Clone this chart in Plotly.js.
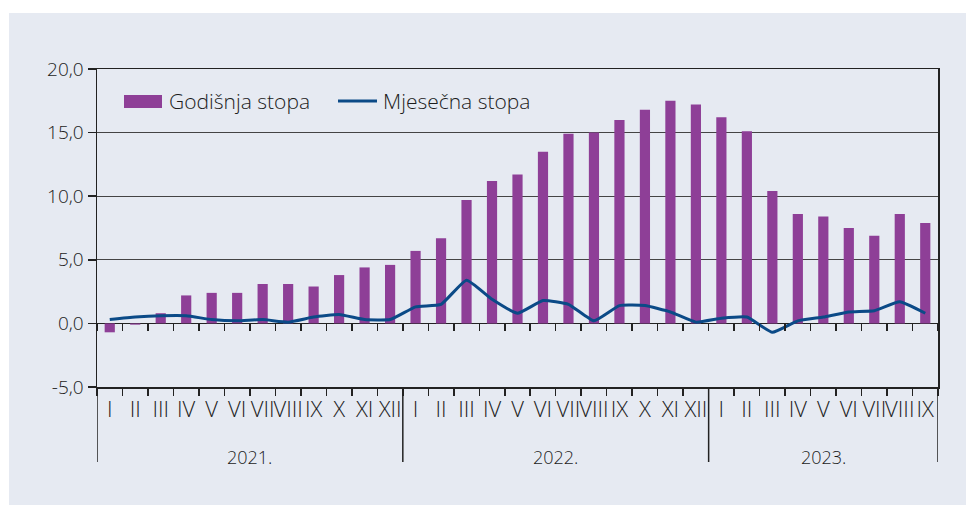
<!DOCTYPE html>
<html>
<head>
<meta charset="utf-8">
<script src="https://cdn.plot.ly/plotly-3.0.1.min.js"></script>
<style>
  html, body { margin: 0; padding: 0; background: #ffffff; }
  #chart { position: absolute; left: 9px; top: 13px; width: 957px; height: 492px; }
</style>
</head>
<body>
<div id="chart"></div>
<script>
// ---- data ----
const years = ['2021.', '2022.', '2023.'];
const monthsPerYear = [12, 12, 9];
const romanMonths = ['I','II','III','IV','V','VI','VII','VIII','IX','X','XI','XII'];

const godisnjaStopa = [
  -0.7, -0.1, 0.8, 2.2, 2.4, 2.4, 3.1, 3.1, 2.9, 3.8, 4.4, 4.6,
  5.7, 6.7, 9.7, 11.2, 11.7, 13.5, 14.9, 15.0, 16.0, 16.8, 17.5, 17.2,
  16.2, 15.1, 10.4, 8.6, 8.4, 7.5, 6.9, 8.6, 7.9
];
const mjesecnaStopa = [
  0.3, 0.5, 0.6, 0.6, 0.3, 0.2, 0.3, 0.1, 0.5, 0.7, 0.3, 0.3,
  1.3, 1.5, 3.4, 1.9, 0.8, 1.8, 1.5, 0.2, 1.4, 1.4, 0.9, 0.1,
  0.4, 0.5, -0.7, 0.2, 0.5, 0.9, 1.0, 1.7, 0.8
];
const yTickVals = [-5, 0, 5, 10, 15, 20];
const yTickText = ['-5,0', '0,0', '5,0', '10,0', '15,0', '20,0'];
const seriesNames = ['Godišnja stopa', 'Mjesečna stopa'];

// ---- categories ----
const cats = [], catLabels = [];
years.forEach((y, i) => {
  for (let m = 0; m < monthsPerYear[i]; m++) {
    cats.push(y + romanMonths[m]);
    catLabels.push(romanMonths[m]);
  }
});
const nCat = cats.length;

const barColor = '#8e3f97';
const lineColor = '#0b4a87';
const textColor = '#1c1c1c';
const font = 'Open Sans, Noto Sans, sans-serif';

const traces = [
  { type: 'bar', x: cats, y: godisnjaStopa, name: seriesNames[0],
    marker: { color: barColor }, showlegend: false, hoverinfo: 'y' },
  { type: 'scatter', mode: 'lines', x: cats, y: mjesecnaStopa, name: seriesNames[1],
    line: { color: lineColor, width: 3, shape: 'spline', smoothing: 0.4 },
    showlegend: false, hoverinfo: 'y' },
  // helper trace for the tick axis along the zero line
  { type: 'scatter', mode: 'lines', x: cats, y: cats.map(() => null),
    xaxis: 'x2', yaxis: 'y', showlegend: false, hoverinfo: 'skip' }
];

// year separators and labels
const shapes = [];
const annotations = [];
const extBottom = -(462 - 387) / 318;
let start = 0;
years.forEach((y, i) => {
  const end = start + monthsPerYear[i];
  annotations.push({ xref: 'x', yref: 'paper', x: (start + end - 1) / 2, y: -(457 - 387) / 318,
    yanchor: 'middle', xanchor: 'center', showarrow: false, text: y,
    font: { family: font, size: 18, color: textColor, weight: 300 } });
  shapes.push({ type: 'line', xref: 'x', yref: 'paper', x0: end - 0.5, x1: end - 0.5,
    y0: 0, y1: extBottom, line: { color: '#222', width: 1.5 } });
  start = end;
});
shapes.push({ type: 'line', xref: 'x', yref: 'paper', x0: -0.5, x1: -0.5,
  y0: 0, y1: extBottom, line: { color: '#222', width: 1.5 } });

// custom legend
shapes.push({ type: 'rect', xref: 'paper', yref: 'paper',
  x0: (124 - 97) / 841, x1: (162 - 97) / 841, y0: 1 - (108 - 69) / 318, y1: 1 - (95 - 69) / 318,
  fillcolor: barColor, line: { width: 0 } });
shapes.push({ type: 'line', xref: 'paper', yref: 'paper',
  x0: (338 - 97) / 841, x1: (377 - 97) / 841, y0: 1 - (101 - 69) / 318, y1: 1 - (101 - 69) / 318,
  line: { color: lineColor, width: 3 } });
annotations.push({ xref: 'paper', yref: 'paper', x: (167 - 97) / 841, y: 1 - (101 - 69) / 318,
  xanchor: 'left', yanchor: 'middle', showarrow: false, text: seriesNames[0],
  font: { family: font, size: 21, color: textColor, weight: 300 } });
annotations.push({ xref: 'paper', yref: 'paper', x: (381 - 97) / 841, y: 1 - (101 - 69) / 318,
  xanchor: 'left', yanchor: 'middle', showarrow: false, text: seriesNames[1],
  font: { family: font, size: 21, color: textColor, weight: 300 } });

const layout = {
  width: 957, height: 492,
  margin: { l: 88, r: 28, t: 56, b: 118 },
  paper_bgcolor: '#e6eaf2',
  plot_bgcolor: '#e6eaf2',
  bargap: 0.6,
  font: { family: font, color: textColor },
  xaxis: {
    type: 'category', categoryorder: 'array', categoryarray: cats,
    range: [-0.5, nCat - 0.5],
    tickvals: cats, ticktext: catLabels, tickangle: 0,
    tickson: 'boundaries', ticks: 'outside', ticklen: 7, tickwidth: 1.5, tickcolor: '#222',
    showline: true, linecolor: '#222', linewidth: 1.5, mirror: true,
    showgrid: false, zeroline: false,
    tickfont: { family: font, size: 22, color: textColor, weight: 300 },
    ticklabelstandoff: 2,
    fixedrange: true
  },
  xaxis2: {
    type: 'category', categoryorder: 'array', categoryarray: cats,
    overlaying: 'x', anchor: 'free', position: 0.2,
    range: [-0.5, nCat - 0.5],
    tickvals: cats, ticktext: catLabels, showticklabels: false,
    tickson: 'boundaries', ticks: 'outside', ticklen: 7, tickwidth: 1.5, tickcolor: '#222',
    showline: false, showgrid: false, zeroline: false, fixedrange: true
  },
  yaxis: {
    range: [-5, 20],
    tickvals: yTickVals, ticktext: yTickText,
    ticks: 'outside', ticklen: 8, tickwidth: 1.5, tickcolor: '#222',
    showline: true, linecolor: '#222', linewidth: 1.5, mirror: true,
    showgrid: true, gridcolor: '#444', gridwidth: 1.3,
    zeroline: true, zerolinecolor: '#222', zerolinewidth: 1.5,
    tickfont: { family: font, size: 19, color: textColor, weight: 300 },
    fixedrange: true
  },
  shapes: shapes,
  annotations: annotations,
  showlegend: false
};

Plotly.newPlot('chart', traces, layout, { displayModeBar: false, staticPlot: true });
</script>
</body>
</html>
